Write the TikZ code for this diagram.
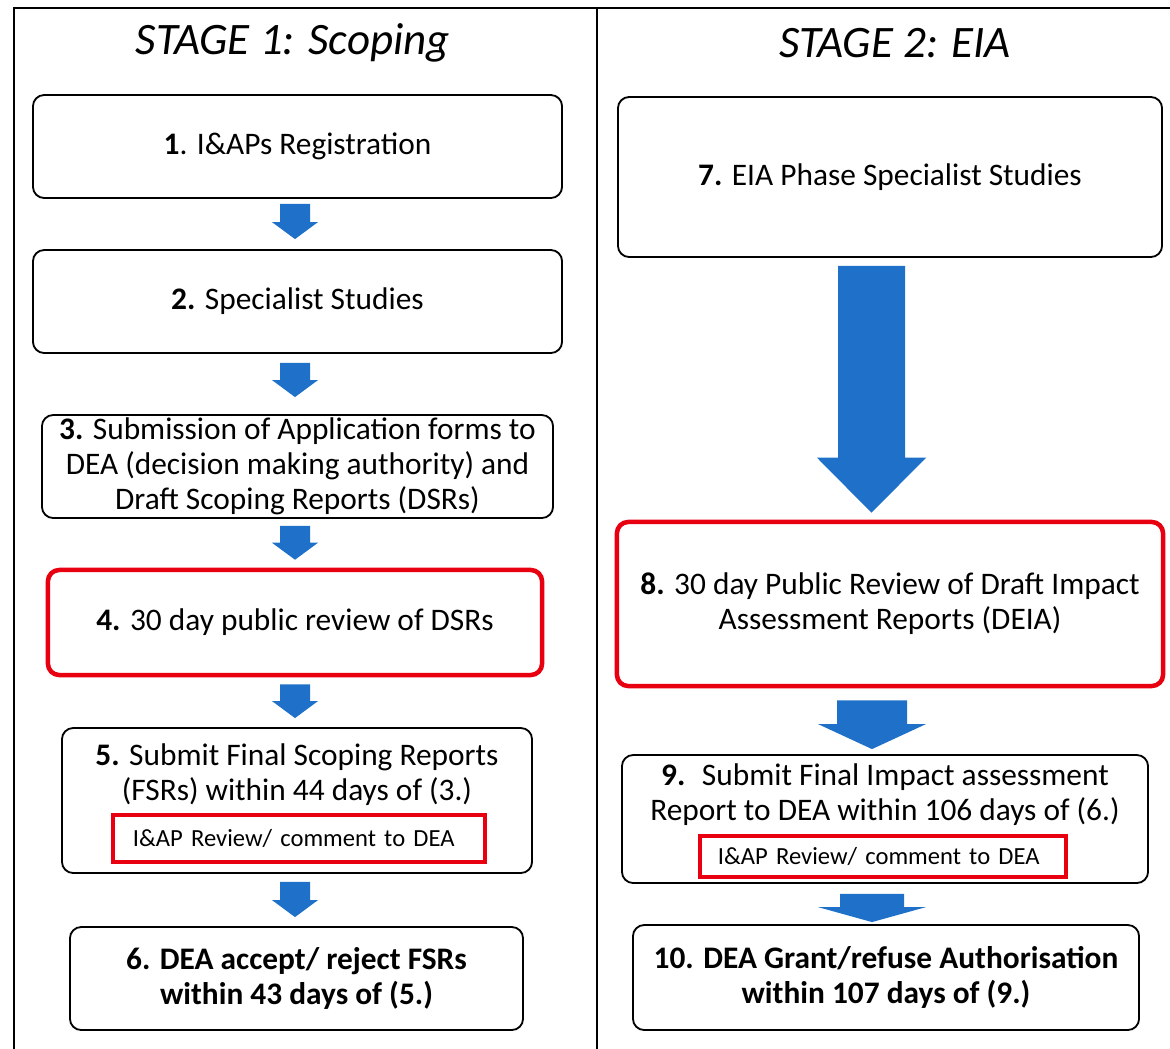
\documentclass[tikz,border=0pt]{standalone}
\usepackage{fontspec}
\setmainfont{Carlito}
\usepackage{tikz}
\usetikzlibrary{calc}
\definecolor{FlowBlue}{RGB}{31,112,200}
\definecolor{ReviewRed}{RGB}{232,0,16}

\tikzset{
  stepbox/.style={draw=black, line width=1.3pt, rounded corners=8pt, align=center,
                  inner sep=0pt, font=\fontsize{22.3}{25}\selectfont},
  reviewbox/.style={stepbox, draw=ReviewRed, line width=3.2pt},
  notebox/.style={draw=ReviewRed, line width=2.6pt, inner ysep=0pt, align=left,
                  font=\fontsize{17.5}{20}\selectfont},
  steptext/.style={align=center, inner sep=0pt, font=\fontsize{22.3}{25}\selectfont},
  stagetitle/.style={font=\fontsize{32}{38}\selectfont\itshape}
}

% block arrow: top point, tip point, shaft half width, head half width, head length
\newcommand{\blockarrow}[5]{%
  \fill[FlowBlue] ($(#1)+(-#3,0)$) -- ($(#1)+(#3,0)$) -- ($(#2)+(#3,-#5)$)
    -- ($(#2)+(#4,-#5)$) -- (#2) -- ($(#2)+(-#4,-#5)$) -- ($(#2)+(-#3,-#5)$) -- cycle;}

\begin{document}
\begin{tikzpicture}[x=0.025cm, y=-0.025cm]
  \useasboundingbox (0,0) rectangle (1170,1048);

  % frame
  \draw[line width=1.6pt] (14,1060) -- (14,8) -- (1180,8);
  \draw[line width=1.6pt] (597,8) -- (597,1060);

  \node[stagetitle] (stage1) at (293,43) {STAGE 1: Scoping};
  \node[stagetitle] (stage2) at (895,43) {STAGE 2: EIA};

  % stage 1
  \node[stepbox, minimum width=13.225cm, minimum height=2.575cm] (b1) at (297.5,146.5)
    {\textbf{1}. I\&APs Registration};
  \node[stepbox, minimum width=13.225cm, minimum height=2.575cm] (b2) at (297.5,301.5)
    {\textbf{2.} Specialist Studies};
  \node[stepbox, minimum width=12.775cm, minimum height=2.575cm] (b3) at (297.5,466.5)
    {\textbf{3.} Submission of Application forms to\\DEA (decision making authority) and\\Draft Scoping Reports (DSRs)};
  \node[reviewbox, minimum width=12.35cm, minimum height=2.625cm] (b4) at (295,622.5)
    {\textbf{4.} 30 day public review of DSRs};
  \node[stepbox, minimum width=11.75cm, minimum height=3.625cm] (b5) at (297,800.5) {};
  \node[steptext] (b5text) at (297,775)
    {\textbf{5.} Submit Final Scoping Reports\\(FSRs) within 44 days of (3.)};
  \node[notebox, inner xsep=0.5cm, text width=8.3cm, minimum height=1.175cm] (b5note) at (299,838.5)
    {I\&AP Review/ comment to DEA};
  \node[stepbox, minimum width=11.325cm, minimum height=2.575cm] (b6) at (296.5,978.5)
    {\textbf{6. DEA accept/ reject FSRs}\\\textbf{within 43 days of (5.)}};

  % stage 2
  \node[stepbox, minimum width=13.6cm, minimum height=4cm] (b7) at (890,177)
    {\textbf{7.} EIA Phase Specialist Studies};
  \node[reviewbox, minimum width=13.65cm, minimum height=4.1cm] (b8) at (890,604)
    {\textbf{8.} 30 day Public Review of Draft Impact\\Assessment Reports (DEIA)};
  \node[stepbox, minimum width=13.15cm, minimum height=3.2cm] (b9) at (885,819) {};
  \node[steptext] (b9text) at (885,794.5)
    {\textbf{9.}~ Submit Final Impact assessment\\Report to DEA within 106 days of (6.)};
  \node[notebox, inner xsep=0.45cm, text width=8.25cm, minimum height=1.025cm] (b9note) at (883,856.5)
    {I\&AP Review/ comment to DEA};
  \node[stepbox, minimum width=12.65cm, minimum height=2.625cm] (b10) at (886,977.5)
    {\textbf{10. DEA Grant/refuse Authorisation}\\\textbf{within 107 days of (9.)}};

  % arrows
  \coordinate (a1top) at ($(b1.south)+(-2.5,5)$);
  \coordinate (a1tip) at ($(b2.north)+(-2.5,-10)$);
  \coordinate (a2top) at ($(b2.south)+(-2.5,9)$);
  \coordinate (a2tip) at ($(b3.north)+(-2.5,-17)$);
  \coordinate (a3top) at ($(b3.south)+(-2.5,7)$);
  \coordinate (a3tip) at ($(b4.north)+(0,-8)$);
  \coordinate (a4top) at ($(b4.south)+(0,7)$);
  \coordinate (a4tip) at ($(b5.north)+(-2,-9)$);
  \coordinate (a5top) at ($(b5.south)+(-2,8)$);
  \coordinate (a5tip) at ($(b6.north)+(-1.5,-9)$);
  \coordinate (a7top) at ($(b7.south)+(-18.5,8)$);
  \coordinate (a7tip) at ($(b8.north)+(-18.5,-7)$);
  \coordinate (a8top) at ($(b8.south)+(-18,12)$);
  \coordinate (a8tip) at ($(b9.north)+(-13,-5)$);
  \coordinate (a9top) at ($(b9.south)+(-13,10)$);
  \coordinate (a9tip) at ($(b10.north)+(-14,-2)$);

  \blockarrow{a1top}{a1tip}{15}{23}{17}
  \blockarrow{a2top}{a2tip}{15}{23}{17}
  \blockarrow{a3top}{a3tip}{15}{23}{17}
  \blockarrow{a4top}{a4tip}{15}{23}{17}
  \blockarrow{a5top}{a5tip}{15}{23}{17}
  \blockarrow{a7top}{a7tip}{33.5}{54.5}{55}
  \blockarrow{a8top}{a8tip}{35}{54}{25}
  \blockarrow{a9top}{a9tip}{32}{54}{15}
\end{tikzpicture}
\end{document}
